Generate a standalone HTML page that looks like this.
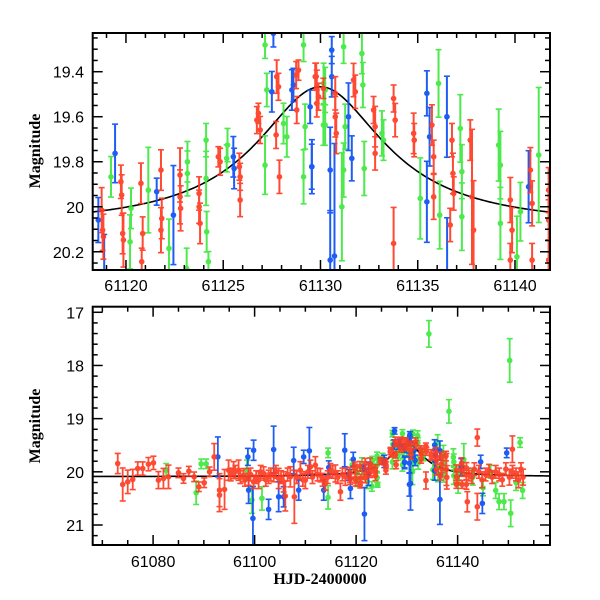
<!DOCTYPE html>
<html><head><meta charset="utf-8"><style>
html,body{margin:0;padding:0;background:#fff;width:600px;height:600px;overflow:hidden}
svg{display:block}
.tk{font-family:"Liberation Sans",sans-serif;font-size:16px;fill:#000}
.ti{font-family:"Liberation Serif",serif;font-size:16px;font-weight:bold;fill:#000}
</style></head><body>
<svg id="chart" width="600" height="600" viewBox="0 0 600 600"></svg>
<script>
// ---- data: [time, magnitude, error] ----
const redT=[61073.03,61074.01,61075.00,61075.99,61076.97,61077.96,61079.08,61080.07,61081.05,61082.04,61083.03,61085.00,61085.99,61087.04,61088.09,61089.01,61090.07,61091.12,61092.04,61093.09,61093.09,61094.08,61094.87,61095.86,61096.84,61097.83,61098.82,61099.80,61100.79,61101.78,61102.76,61103.75,61104.74,61105.72,61106.05,61107.04,61107.83,61109.01,61110.00,61110.99,61111.97,61112.96,61113.95,61114.93,61115.92,61116.91,61117.89,
61095.3,61096.2,61097.2,61098.1,61099.2,61100.3,61101.2,61102.2,61103.2,61104.2,61105.2,61106.5,61108.3,61109.5,61110.5,61111.4,61112.4,61113.4,61114.4,61115.4,61116.4,61117.3,
61118.75,61118.84,61118.80,61119.74,61119.78,61119.87,61119.83,61120.77,61120.86,61120.81,61121.80,61121.84,61121.80,61122.78,61122.81,61122.78,61123.76,61123.81,61123.76,61124.75,61124.84,61125.83,61125.87,61125.87,61126.73,61126.81,61126.90,61127.72,61127.75,61127.84,61127.89,61128.75,61128.78,61128.87,61129.78,61129.81,61129.90,61130.15,
61129.73,61129.81,61130.76,61130.76,61130.81,61131.70,61131.79,61132.73,61132.81,61132.81,61133.76,61133.84,61133.76,61134.79,61134.82,61135.73,61135.82,61135.82,61136.76,61136.81,61136.85,61136.67,61137.70,61137.79,61137.87,61139.76,61139.85,61139.76,61140.79,61140.88,61140.88,61141.73,61141.73,61141.73,
61143.88,61150.79,61141.91,61143.88,61142.2,61142.8,61143.3,61144.2,61144.8,61145.5,61146.2,61146.8,61147.5,61148.2,61148.8,61149.5,61150.2,61150.8,61151.5,61152.0,61152.5,61152.9];
const redM=[19.844,20.238,20.188,20.144,19.938,19.938,19.856,19.831,20.156,20.125,20.094,20.019,20.125,19.988,20.094,20.281,20.206,20.0,19.719,20.344,20.438,20.331,19.969,19.969,19.969,20.063,20.094,20.188,20.156,20.031,20.094,20.063,20.125,20.188,20.456,20.094,20.469,19.969,20.156,19.906,19.875,20.063,20.219,19.969,20.031,20.375,20.094,
20.05,20.0,20.1,20.15,20.05,20.1,20.0,20.15,20.05,20.0,20.1,20.05,20.1,20.15,20.0,20.1,20.05,20.15,20.1,20.0,20.1,20.05,
20.015,20.133,20.104,19.889,19.948,20.148,20.119,19.896,20.119,20.244,19.837,20.052,20.104,19.859,20.007,19.956,19.941,20.074,20.0,19.778,19.8,19.822,19.867,19.97,19.615,19.585,19.659,19.681,19.422,19.467,19.867,19.415,19.57,19.393,19.422,19.541,19.511,19.474,
19.422,19.467,19.496,19.6,19.674,19.437,19.489,19.57,19.644,19.763,19.519,19.615,20.163,19.674,19.704,19.637,19.778,19.956,19.704,19.852,19.941,20.081,19.704,19.956,20.104,19.97,20.104,20.237,19.837,19.985,20.237,19.926,20.059,20.237,
19.356,19.575,20.563,20.656,20.05,20.1,19.95,20.0,20.15,20.05,19.98,20.1,20.0,20.05,20.15,19.95,20.1,20.0,20.05,20.15,19.95,20.1];
const redE=[0.19,0.31,0.22,0.19,0.125,0.125,0.125,0.125,0.16,0.19,0.22,0.09,0.09,0.09,0.09,0.09,0.09,0.09,0.25,0.31,0.31,0.375,0.19,0.16,0.19,0.125,0.16,0.125,0.16,0.125,0.125,0.125,0.19,0.19,0.28,0.19,0.5,0.16,0.16,0.125,0.16,0.125,0.125,0.125,0.16,0.16,0.16,
0.12,0.12,0.12,0.12,0.12,0.12,0.12,0.12,0.12,0.12,0.12,0.12,0.12,0.12,0.12,0.12,0.12,0.12,0.12,0.12,0.12,0.12,
0.10,0.10,0.09,0.074,0.09,0.12,0.09,0.09,0.074,0.06,0.09,0.09,0.10,0.12,0.10,0.12,0.074,0.09,0.074,0.045,0.06,0.06,0.06,0.074,0.06,0.045,0.06,0.06,0.074,0.06,0.074,0.06,0.06,0.045,0.06,0.06,0.06,0.045,
0.06,0.074,0.074,0.09,0.09,0.074,0.074,0.06,0.09,0.074,0.06,0.074,0.16,0.09,0.074,0.09,0.074,0.10,0.074,0.09,0.074,0.074,0.09,0.30,0.22,0.10,0.10,0.074,0.10,0.10,0.074,0.10,0.09,0.09,
0.16,0.25,0.19,0.25,0.12,0.12,0.12,0.12,0.15,0.12,0.12,0.12,0.12,0.12,0.12,0.12,0.15,0.12,0.12,0.15,0.12,0.15];

const greenT=[61082.57,61088.49,61089.47,61090.46,61098.49,61099.47,61101.45,61114.47,61114.47,
61119.23,61120.26,61120.21,61121.15,61122.21,61123.16,61123.16,61123.12,61124.12,61124.12,61124.15,61124.24,61125.18,61125.22,61127.15,61127.15,61127.24,61128.10,61128.27,61129.13,61129.21,61129.13,61130.24,61130.15,
61130.16,61130.24,61131.19,61131.27,61131.19,61131.10,61132.13,61132.18,61132.25,61133.16,61133.24,61135.13,61136.07,61136.13,61137.19,61137.27,61137.27,61139.16,61139.25,61139.25,61140.10,61140.28,61141.22,
61134.34,61138.29,61150.26,61152.30,61150.46,61148.16,61149.14,61143.0,61145.0,61146.5,61147.5,61151.5,61152.8];
const greenM=[19.969,20.394,19.85,19.85,19.969,20.531,20.5,19.644,20.481,
19.867,20.007,20.156,19.926,20.185,19.8,19.852,20.274,19.704,19.874,20.111,20.244,19.785,19.726,19.815,19.281,19.481,19.63,19.689,19.867,19.644,19.281,19.481,19.637,
19.452,19.637,19.289,19.644,19.837,20.0,19.319,19.459,19.83,19.674,19.704,19.963,19.452,20.037,19.652,19.844,20.044,19.726,20.074,19.815,20.222,20.022,19.77,
17.406,18.863,17.906,19.45,20.78,20.56,20.56,20.1,20.3,20.0,20.35,20.2,20.35];
const greenE=[0.125,0.22,0.09,0.09,0.19,0.25,0.22,0.09,0.22,
0.09,0.09,0.12,0.19,0.13,0.09,0.10,0.09,0.074,0.12,0.09,0.045,0.06,0.074,0.13,0.06,0.074,0.09,0.09,0.12,0.10,0.074,0.10,0.09,
0.09,0.09,0.074,0.10,0.12,0.24,0.09,0.10,0.12,0.10,0.09,0.18,0.15,0.15,0.15,0.12,0.15,0.16,0.16,0.15,0.18,0.13,0.30,
0.25,0.22,0.41,0.09,0.25,0.15,0.15,0.15,0.15,0.12,0.15,0.15,0.15];

const blueT=[61092.76,61098.68,61099.80,61098.82,61099.67,61102.76,61103.75,61104.74,61105.72,61107.70,61108.68,61109.67,61110.79,61113.62,61114.61,61117.76,61118.88,61121.64,
61118.58,61119.44,61121.58,61122.44,61125.52,61125.56,61127.50,61127.58,61128.53,61128.61,61129.47,61129.55,
61129.56,61130.50,61130.58,61130.58,61130.50,61131.44,61131.61,61135.47,61135.47,61135.61,61136.50,61140.70,
61136.51,61130.72,61144.87,61149.67,61144.54];
const blueM=[19.719,19.719,19.594,20.344,20.875,20.706,19.581,20.469,20.469,19.788,20.344,19.719,19.606,20.344,19.919,19.594,20.313,20.794,
20.059,19.763,19.933,20.037,19.778,19.83,19.489,19.23,19.481,19.459,19.556,19.822,
19.822,20.237,19.304,19.422,19.837,19.6,19.785,19.496,19.978,19.689,19.6,19.911,
20.519,20.219,20.594,19.644,19.813];
const blueE=[0.375,0.16,0.19,0.25,0.6,0.19,0.44,0.28,0.19,0.25,0.19,0.125,0.44,0.19,0.125,0.31,0.19,0.5,
0.10,0.13,0.06,0.22,0.09,0.09,0.09,0.06,0.09,0.074,0.074,0.10,
0.12,0.22,0.06,0.09,0.19,0.15,0.10,0.10,0.18,0.13,0.18,0.16,
0.47,0.5,0.19,0.09,0.125];

// tick labels
const topXTicks=[61120,61125,61130,61135,61140];
const topYTicks=[19.4,19.6,19.8,20,20.2];
const botXTicks=[61080,61100,61120,61140];
const botYTicks=[17,18,19,20,21];
// model parameters
const modelBase=[20.09], modelT0=[61130.0], modelAmp=[0.775], modelWidth=[3.5];

const NS='http://www.w3.org/2000/svg';
const svg=document.getElementById('chart');
function el(tag,attrs,parent){const e=document.createElementNS(NS,tag);for(const k in attrs)e.setAttribute(k,attrs[k]);(parent||svg).appendChild(e);return e;}

const panels=[
 {id:'top',x0:92.7,x1:550,y0:33,y1:270,tmin:61118.29,tmax:61141.8,mmin:19.228,mmax:20.281,
  xMaj:topXTicks,xMin:1,yMaj:topYTicks,yMin:0.05,labelY:291,titleY:151,r:2.8,w:2},
 {id:'bottom',x0:92.7,x1:550,y0:306.7,y1:545,tmin:61068.1,tmax:61158.2,mmin:16.895,mmax:21.376,
  xMaj:botXTicks,xMin:5,yMaj:botYTicks,yMin:0.2,labelY:567,titleY:426,r:2.8,w:1.8}
];

const defs=el('defs',{});
panels.forEach(p=>{
  const sx=t=>p.x0+(t-p.tmin)/(p.tmax-p.tmin)*(p.x1-p.x0);
  const sy=m=>p.y0+(m-p.mmin)/(p.mmax-p.mmin)*(p.y1-p.y0);
  const cp=el('clipPath',{id:'clip-'+p.id},defs);
  el('rect',{x:p.x0,y:p.y0,width:p.x1-p.x0,height:p.y1-p.y0},cp);
  const g=el('g',{'clip-path':'url(#clip-'+p.id+')'});
  
  
  let d='';
  for(let i=0;i<=300;i++){
    const t=p.tmin+(p.tmax-p.tmin)*i/300;
    const dt=(t-modelT0[0])/modelWidth[0];
    const m=modelBase[0]-2.5*Math.log10(1+modelAmp[0]/(1+dt*dt));
    d+=(i?'L':'M')+sx(t).toFixed(2)+','+sy(m).toFixed(2);
  }
  const mc=el('path',{d:d,fill:'none',stroke:'#000','stroke-width':1.6},g);
  
  
  const series=[['green','#3ee83e',greenT,greenM,greenE],['blue','#0b50f5',blueT,blueM,blueE],['red','#ff3b22',redT,redM,redE]];
  series.forEach(s=>{
    const sg=el('g',{stroke:s[1],fill:s[1],opacity:0.92},g);
    
    
    for(let i=0;i<s[2].length;i++){
      const x=sx(s[2][i]),y=sy(s[3][i]),ya=sy(s[3][i]-s[4][i]),yb=sy(s[3][i]+s[4][i]);
      const pg=el('g',{},sg);
      
      
      el('line',{x1:x,x2:x,y1:ya,y2:yb,'stroke-width':p.w},pg);
      el('line',{x1:x-3,x2:x+3,y1:ya,y2:ya,'stroke-width':1.6},pg);
      el('line',{x1:x-3,x2:x+3,y1:yb,y2:yb,'stroke-width':1.6},pg);
      el('circle',{cx:x,cy:y,r:p.r,stroke:'none'},pg);
    }
  });
  const fr=el('rect',{x:p.x0,y:p.y0,width:p.x1-p.x0,height:p.y1-p.y0,fill:'none',stroke:'#000','stroke-width':2});
  
  
  const tg=el('g',{stroke:'#000','stroke-width':1.5});
  
  
  const isMaj=(v,arr)=>arr.some(a=>Math.abs(a-v)<1e-6);
  const xs=Math.ceil(p.tmin/p.xMin)*p.xMin;
  for(let t=xs;t<=p.tmax;t+=p.xMin){
    const x=sx(t),L=isMaj(t,p.xMaj)?10:5;
    el('line',{x1:x,x2:x,y1:p.y1,y2:p.y1-L},tg);
    el('line',{x1:x,x2:x,y1:p.y0,y2:p.y0+L},tg);
  }
  const ys=Math.ceil(p.mmin/p.yMin-1e-6);
  for(let k=ys;k*p.yMin<=p.mmax;k++){
    const m=k*p.yMin,y=sy(m),L=isMaj(m,p.yMaj)?10:5;
    el('line',{x1:p.x0,x2:p.x0+L,y1:y,y2:y},tg);
    el('line',{x1:p.x1,x2:p.x1-L,y1:y,y2:y},tg);
  }
  p.xMaj.forEach(t=>{
    const tx=el('text',{x:sx(t),y:p.labelY,'text-anchor':'middle',class:'tk'});
    tx.textContent=String(t);
    
    
  });
  p.yMaj.forEach(m=>{
    const tx=el('text',{x:84,y:sy(m)+6,'text-anchor':'end',class:'tk'});
    tx.textContent=String(m);
    
    
  });
  const yt=el('text',{x:0,y:0,'text-anchor':'middle',class:'ti',transform:'translate(40,'+p.titleY+') rotate(-90)'});
  yt.textContent='Magnitude';
  
  
});
const xt=el('text',{x:320,y:584,'text-anchor':'middle',class:'ti'});
xt.textContent='HJD-2400000';


</script>
</body></html>
